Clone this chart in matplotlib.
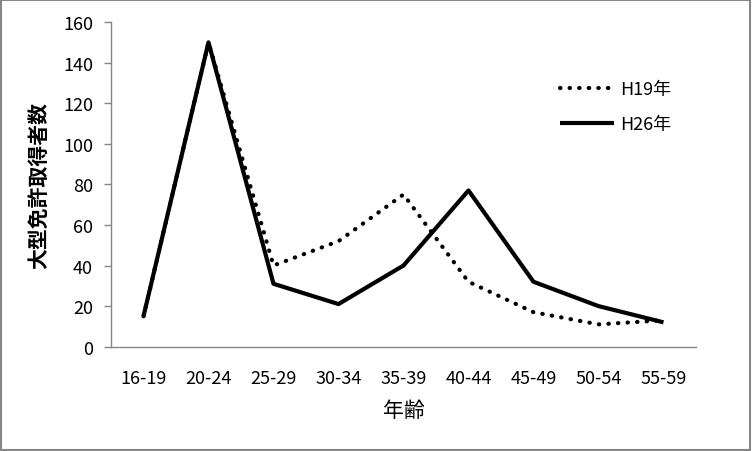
import matplotlib
matplotlib.use("Agg")
import matplotlib.pyplot as plt
import matplotlib.patches as patches

plt.rcParams['font.family'] = ['Noto Sans CJK JP', 'DejaVu Sans']

# 年齢区分ごとの大型免許取得者数
nenrei = ["16-19", "20-24", "25-29", "30-34", "35-39", "40-44", "45-49", "50-54", "55-59"]
h19 = [15, 150, 40, 52, 75, 32, 17, 11, 13]
h26 = [15, 150, 31, 21, 40, 77, 32, 20, 12]
yticks = [0, 20, 40, 60, 80, 100, 120, 140, 160]

gris = "#868686"

fig = plt.figure(figsize=(7.52, 4.52), dpi=100)
ax = fig.add_axes([0.1476, 0.2308, 0.9255 - 0.1476, 0.949 - 0.2308])

x = range(len(nenrei))
ax.plot(x, h19, color="black", lw=3, linestyle=(0, (0.1, 2.2)),
        dash_capstyle="round", label="H19年")
ax.plot(x, h26, color="black", lw=3, solid_capstyle="butt", label="H26年")

ax.set_xlim(-0.5, len(nenrei) - 0.5)
ax.set_ylim(0, 160)
ax.set_yticks(yticks)
ax.set_xticks(list(x))
ax.set_xticklabels(nenrei)

for s in ["top", "right"]:
    ax.spines[s].set_visible(False)
for s in ["left", "bottom"]:
    ax.spines[s].set_color(gris)
    ax.spines[s].set_linewidth(1)

ax.tick_params(axis="y", direction="out", length=5, width=1, color=gris,
               labelsize=13, pad=8)
ax.tick_params(axis="x", length=0, labelsize=13, pad=16)

ax.set_xlabel("年齢", fontsize=15, labelpad=9)
ax.set_ylabel("大型免許取得者数", fontsize=15, fontweight="bold", labelpad=10)

ax.legend(loc="upper left", bbox_to_anchor=(0.74, 0.872), frameon=False,
          fontsize=13, handlelength=3.0, handletextpad=0.3, labelspacing=0.95)

# cadre du graphique
fig.patches.append(patches.Rectangle((0.001, 0.002), 0.997, 0.996, transform=fig.transFigure,
                                     fill=False, ec=gris, lw=1.5))

fig.savefig("out.png", dpi=100)
